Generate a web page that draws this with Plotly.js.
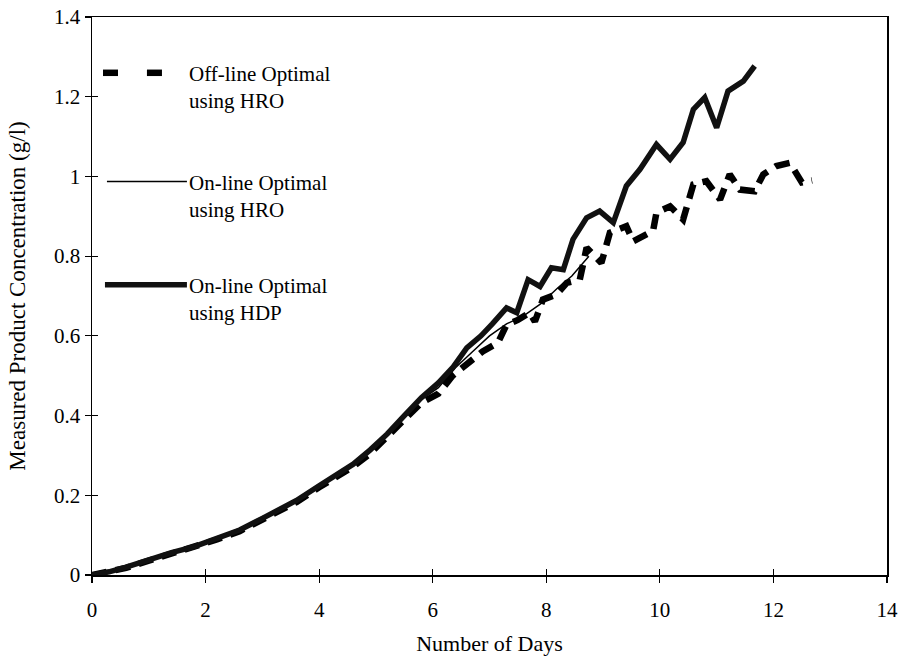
<!DOCTYPE html>
<html>
<head>
<meta charset="utf-8">
<script src="https://cdn.plot.ly/plotly-3.0.1.min.js"></script>
<style>html,body{margin:0;padding:0;background:#fff;}#chart{width:900px;height:665px;}</style>
</head>
<body>
<div id="chart"></div>
<script>
// ---- data ----
const seriesNames = ["Off-line Optimal<br>using HRO", "On-line Optimal<br>using HRO", "On-line Optimal<br>using HDP"];

const offlineHroDays = [0, 0.3, 0.6, 1.0, 1.4, 1.8, 2.2, 2.6, 3.0, 3.3, 3.6, 4.0, 4.3, 4.6, 4.9, 5.2, 5.5, 5.8, 6.1, 6.35, 6.6, 6.88, 7.15, 7.3, 7.5, 7.71, 7.8, 7.94, 8.18, 8.36, 8.59, 8.71, 8.97, 9.12, 9.41, 9.53, 9.88, 9.94, 10.18, 10.41, 10.59, 10.82, 11.06, 11.23, 11.41, 11.67, 11.82, 12.05, 12.29, 12.41, 12.5, 12.68];
const offlineHroConc = [0, 0.007, 0.018, 0.036, 0.053, 0.069, 0.089, 0.11, 0.138, 0.16, 0.183, 0.22, 0.248, 0.272, 0.305, 0.345, 0.39, 0.432, 0.455, 0.5, 0.53, 0.561, 0.583, 0.628, 0.64, 0.658, 0.636, 0.691, 0.704, 0.733, 0.741, 0.821, 0.783, 0.859, 0.875, 0.837, 0.863, 0.909, 0.925, 0.892, 0.98, 0.988, 0.942, 1.005, 0.967, 0.963, 1.005, 1.026, 1.034, 1.009, 0.985, 0.99];

const onlineHroDays = [0, 0.3, 0.6, 1.0, 1.4, 1.8, 2.2, 2.6, 3.0, 3.3, 3.6, 4.0, 4.3, 4.6, 4.9, 5.2, 5.5, 5.8, 6.1, 6.4, 6.7, 7.0, 7.3, 7.6, 7.9, 8.2, 8.45, 8.75];
const onlineHroConc = [0, 0.008, 0.02, 0.038, 0.055, 0.07, 0.09, 0.112, 0.14, 0.162, 0.185, 0.222, 0.25, 0.275, 0.31, 0.35, 0.395, 0.44, 0.47, 0.52, 0.56, 0.6, 0.63, 0.65, 0.68, 0.72, 0.75, 0.8];

const onlineHdpDays = [0, 0.3, 0.6, 1.0, 1.4, 1.8, 2.2, 2.6, 3.0, 3.3, 3.6, 4.0, 4.3, 4.6, 4.9, 5.2, 5.5, 5.8, 6.1, 6.35, 6.6, 6.85, 7.05, 7.3, 7.48, 7.68, 7.89, 8.09, 8.3, 8.47, 8.71, 8.94, 9.18, 9.41, 9.65, 9.94, 10.18, 10.41, 10.59, 10.79, 11.0, 11.2, 11.47, 11.67];
const onlineHdpConc = [0, 0.008, 0.02, 0.039, 0.056, 0.071, 0.091, 0.113, 0.142, 0.164, 0.187, 0.224, 0.252, 0.278, 0.314, 0.354, 0.4, 0.445, 0.482, 0.52, 0.57, 0.6, 0.63, 0.67, 0.658, 0.741, 0.724, 0.771, 0.766, 0.842, 0.896, 0.913, 0.884, 0.976, 1.018, 1.08, 1.043, 1.085, 1.168, 1.198, 1.122, 1.214, 1.239, 1.277];

const xTickVals = [0, 2, 4, 6, 8, 10, 12, 14];
const yTickVals = [0, 0.2, 0.4, 0.6, 0.8, 1.0, 1.2, 1.4];
const yTickText = ["0", "0.2", "0.4", "0.6", "0.8", "1", "1.2", "1.4"];

// ---- chart ----
const FONT = "Liberation Serif, Times New Roman, serif";
const traces = [
  {x: offlineHroDays, y: offlineHroConc, name: seriesNames[0], mode: "lines",
   line: {color: "#000", width: 6.5, dash: "15px,9px"}, showlegend: false},
  {x: onlineHroDays, y: onlineHroConc, name: seriesNames[1], mode: "lines",
   line: {color: "#000", width: 1.5}, showlegend: false},
  {x: onlineHdpDays, y: onlineHdpConc, name: seriesNames[2], mode: "lines",
   line: {color: "#111", width: 5.5}, showlegend: false},
  {x: [], y: [], xaxis: "x2", yaxis: "y2", showlegend: false, hoverinfo: "skip"}
];

const legendY = [0.9, 0.705, 0.52]; // paper y of first text line
const shapes = [
  // legend samples
  {type: "line", xref: "paper", yref: "paper", x0: 0.0138, x1: 0.0327, y0: legendY[0], y1: legendY[0], line: {color: "#000", width: 6.5}},
  {type: "line", xref: "paper", yref: "paper", x0: 0.0691, x1: 0.088, y0: legendY[0], y1: legendY[0], line: {color: "#000", width: 6.5}},
  {type: "line", xref: "paper", yref: "paper", x0: 0.0188, x1: 0.1194, y0: legendY[1], y1: legendY[1], line: {color: "#000", width: 1.5}},
  {type: "line", xref: "paper", yref: "paper", x0: 0.0163, x1: 0.1194, y0: legendY[2], y1: legendY[2], line: {color: "#111", width: 5.5}}
];
const annotations = seriesNames.map((t, i) => ({
  xref: "paper", yref: "paper", x: 0.1194, y: legendY[i], xanchor: "left", yanchor: "top",
  yshift: 13, text: t, showarrow: false, align: "left",
  font: {family: FONT, size: 21, color: "#000"}
}));

const axisCommon = {
  showgrid: false, zeroline: false, showline: true, linecolor: "#000", linewidth: 1.5,
  ticks: "outside", ticklen: 6, tickwidth: 1.2, tickcolor: "#000",
  tickfont: {family: FONT, size: 21, color: "#000"}, mirror: true
};

const layout = {
  width: 900, height: 665,
  margin: {l: 92, r: 13, t: 17, b: 90},
  paper_bgcolor: "#fff", plot_bgcolor: "#fff",
  showlegend: false,
  xaxis: Object.assign({}, axisCommon, {
    range: [0, 14], tickvals: xTickVals, ticklabelstandoff: 9,
    title: {text: "Number of Days", font: {family: FONT, size: 22, color: "#000"}, standoff: 15}
  }),
  yaxis: Object.assign({}, axisCommon, {
    range: [0, 1.4], tickvals: yTickVals, ticktext: yTickText,
    title: {text: "Measured Product Concentration (g/l)", font: {family: FONT, size: 23, color: "#000"}, standoff: 22}
  }),
  xaxis2: {overlaying: "x", range: [0, 14], tickvals: xTickVals, ticks: "inside", ticklen: 6, tickwidth: 1.2,
    tickcolor: "#000", showticklabels: false, showgrid: false, zeroline: false, showline: false},
  yaxis2: {overlaying: "y", range: [0, 1.4], tickvals: yTickVals, ticks: "inside", ticklen: 6, tickwidth: 1.2,
    tickcolor: "#000", showticklabels: false, showgrid: false, zeroline: false, showline: false},
  shapes: shapes,
  annotations: annotations
};

Plotly.newPlot("chart", traces, layout, {staticPlot: true, displayModeBar: false});
</script>
</body>
</html>
